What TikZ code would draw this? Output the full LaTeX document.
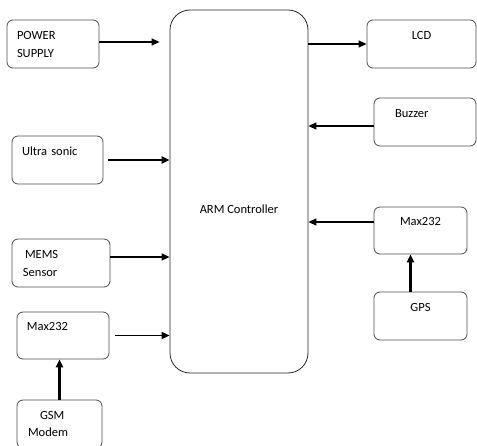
\documentclass[tikz,border=0pt]{standalone}
\usepackage{fontspec}
\setmainfont{Carlito}
\usetikzlibrary{arrows.meta, positioning}
\tikzset{
  blk/.style={draw=black!70, line width=0.8pt, rounded corners=6pt, inner xsep=10pt, inner ysep=0pt, align=left},
  uptext/.style={text depth=18pt},
  link/.style={->, line width=1.3pt},
  thicklink/.style={->, line width=2.2pt}
}
\begin{document}
\begin{tikzpicture}[x=1pt, y=-1pt, font=\fontsize{12.5}{18}\selectfont, >={Triangle[length=8pt,width=7pt]}]
    \useasboundingbox (0,0) rectangle (477,446);
    % controller in the middle
    \node[blk, draw=black!85, rounded corners=20pt, align=center, minimum width=138pt, minimum height=363pt, text height=45pt] (arm) at (239,191.5) {ARM Controller};
    % inputs on the left
    \node[blk, text width=72pt, minimum height=48pt] (pwr) at (53,44) {POWER\\SUPPLY};
    \node[blk, uptext, text width=71pt, minimum height=48pt] (ultra) at (57.5,160) {Ultra sonic};
    \node[blk, text width=76pt, inner xsep=11pt, minimum height=48pt] (mems) at (61,263) {\hspace*{2pt}MEMS\\Sensor};
    \node[blk, uptext, text width=72pt, minimum height=47pt] (maxl) at (63,335.5) {Max232};
    \node[blk, font=\fontsize{12.5}{17}\selectfont, text width=63pt, inner xsep=11pt, minimum height=48pt] (gsm) at (59.5,424) {\hspace*{12pt}GSM\\Modem};
    % outputs and gps on the right
    \node[blk, uptext, align=center, text width=89pt, minimum height=48pt] (lcd) at (421.5,44) {LCD};
    \node[blk, uptext, text width=60pt, inner xsep=21pt, minimum height=48pt] (buzz) at (425,122) {Buzzer};
    \node[blk, uptext, align=center, text width=73pt, minimum height=47pt] (maxr) at (420.5,230.5) {Max232};
    \node[blk, uptext, align=center, text width=73pt, minimum height=48pt] (gps) at (420.5,316) {GPS};
    % points where the arrows meet
    \coordinate (pw) at ([yshift=2pt]pwr.east);
    \coordinate (ms) at ([yshift=6pt]mems.east);
    \coordinate (bz) at ([yshift=-4pt]buzz.west);
    \coordinate (mr) at ([yshift=8.5pt]maxr.west);
    \coordinate (gp) at ([xshift=-10pt]gps.north);
    % left arrows
    \draw[link, shorten >=10pt] (pw) -- (pw -| arm.west);
    \draw[thicklink, shorten <=5pt] (ultra.east) -- (ultra.east -| arm.west);
    \draw[link] (ms) -- (ms -| arm.west);
    \draw[link, line width=1.7pt, shorten <=6pt] (maxl.east) -- (maxl.east -| arm.west);
    \draw[thicklink] (gsm.north) -- (gsm.north |- maxl.south);
    % right arrows
    \draw[link] (arm.east |- lcd.west) -- (lcd.west);
    \draw[link] (bz) -- (bz -| arm.east);
    \draw[link] (mr) -- (mr -| arm.east);
    \draw[thicklink] (gp) -- (gp |- maxr.south);
\end{tikzpicture}
\end{document}
